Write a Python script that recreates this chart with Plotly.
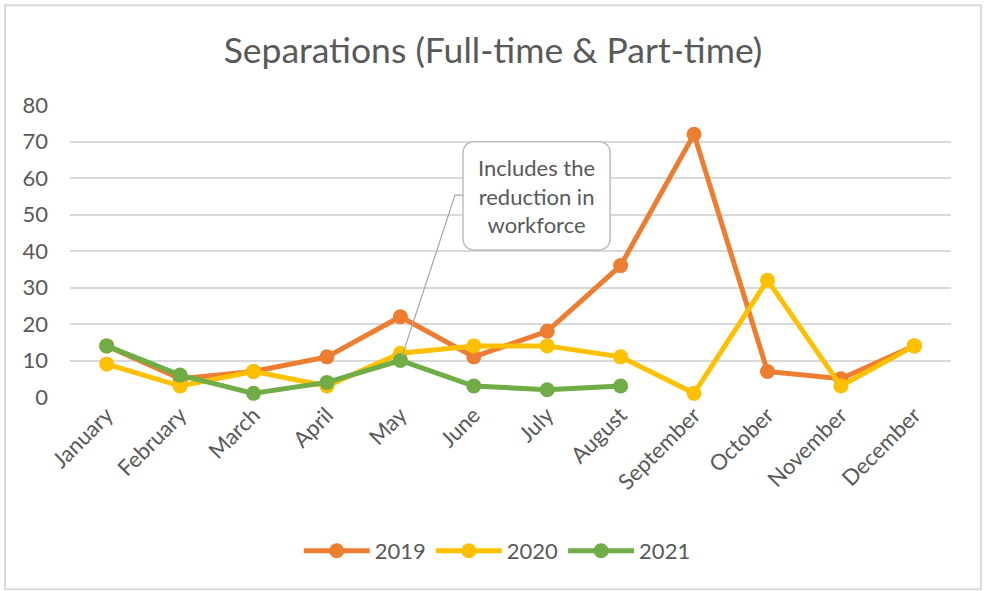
import plotly.graph_objects as go

months = ["January", "February", "March", "April", "May", "June", "July",
          "August", "September", "October", "November", "December"]
y2019 = [14, 5, 7, 11, 22, 11, 18, 36, 72, 7, 5, 14]
y2020 = [9, 3, 7, 3, 12, 14, 14, 11, 1, 32, 3, 14]
y2021 = [14, 6, 1, 4, 10, 3, 2, 3]
yticks = [0, 10, 20, 30, 40, 50, 60, 70, 80]

FONT = "Lato, Liberation Sans, sans-serif"
GRAY = "#595959"

fig = go.Figure()
for name, ys, col in [("2019", y2019, "#ED7D31"), ("2020", y2020, "#FFC000"),
                      ("2021", y2021, "#70AD47")]:
    fig.add_trace(go.Scatter(
        x=months[:len(ys)], y=ys, name=name, mode="lines+markers",
        line=dict(color=col, width=5), marker=dict(color=col, size=15),
        cliponaxis=False))

# callout box (rounded) and leader line in data coordinates
x0, x1 = 4.853, 6.857
yb, yt = 40.3, 69.9
rx, ry = 0.17, 3.4
path = (f"M {x0+rx},{yt} L {x1-rx},{yt} Q {x1},{yt} {x1},{yt-ry} "
        f"L {x1},{yb+ry} Q {x1},{yb} {x1-rx},{yb} L {x0+rx},{yb} "
        f"Q {x0},{yb} {x0},{yb+ry} L {x0},{yt-ry} Q {x0},{yt} {x0+rx},{yt} Z")
fig.add_shape(type="path", path=path, xref="x", yref="y",
              line=dict(color="#BFBFBF", width=1.5), fillcolor="white", layer="above")
fig.add_shape(type="path", xref="x", yref="y",
              path=f"M {x0},55.3 L 4.744,55.3 L 4.02,11.0",
              line=dict(color="#A6A6A6", width=1.2), layer="above")
fig.add_annotation(x=(x0 + x1) / 2, y=(yb + yt) / 2, xref="x", yref="y",
                   text="Includes the<br>reduction in<br>workforce", showarrow=False,
                   font=dict(family=FONT, size=22, color=GRAY), align="center")

# outer chart border
fig.add_shape(type="rect", xref="paper", yref="paper", x0=-0.0738, x1=1.034,
              y0=-0.658, y1=1.342, line=dict(color="#D9D9D9", width=2))

fig.update_layout(
    width=984, height=591,
    margin=dict(l=70, r=33, t=105, b=194),
    paper_bgcolor="white", plot_bgcolor="white",
    title=dict(text="Separations (Full-time & Part-time)", x=0.501, xanchor="center",
               y=0.915, yanchor="middle",
               font=dict(family=FONT, size=35.5, color=GRAY)),
    font=dict(family=FONT, color=GRAY),
    showlegend=True,
    legend=dict(orientation="h", x=0.485, xanchor="center", y=-0.527, yanchor="middle",
                font=dict(family=FONT, size=22, color=GRAY), itemwidth=66,
                traceorder="normal"),
    xaxis=dict(type="category", categoryorder="array", categoryarray=months,
               tickangle=-45, tickfont=dict(family=FONT, size=22, color=GRAY),
               showgrid=False, showline=False, ticks="", range=[-0.5, 11.5]),
    yaxis=dict(range=[0, 80], tickvals=yticks, showgrid=True, gridcolor="#D9D9D9",
               gridwidth=2, zeroline=False, showline=False, ticks="",
               tickfont=dict(family=FONT, size=22, color=GRAY), ticklabelstandoff=21),
)

fig.write_html("out.html", config={"displayModeBar": False},
               post_script="document.body.style.margin='0';")
